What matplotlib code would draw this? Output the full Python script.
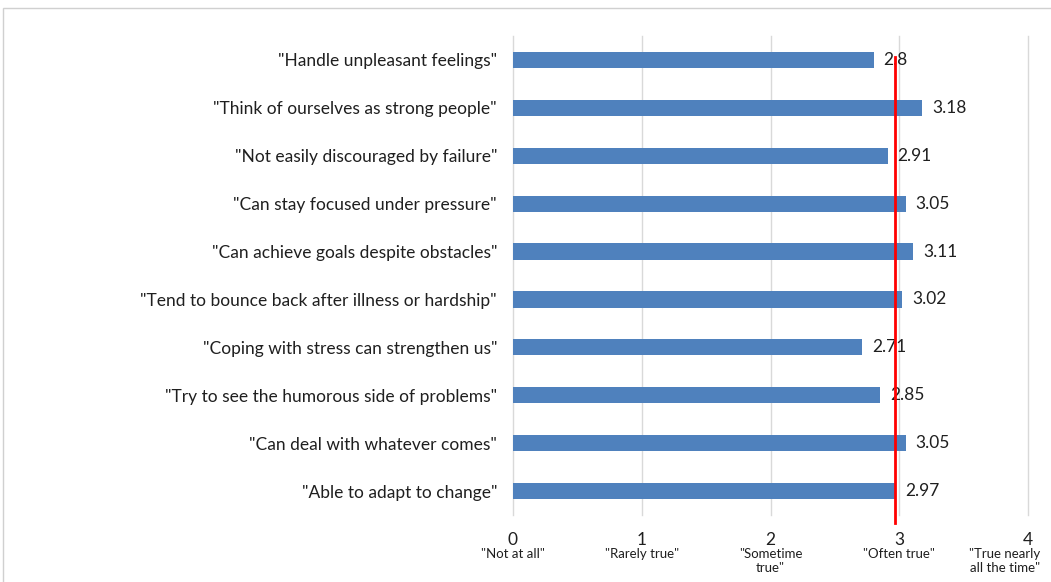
import matplotlib
matplotlib.use("Agg")
import matplotlib.pyplot as plt
import matplotlib.transforms as mtransforms
from matplotlib.patches import Rectangle
import numpy as np

plt.rcParams['font.family'] = ['Lato', 'DejaVu Sans']

items = [
    '"Handle unpleasant feelings"',
    '"Think of ourselves as strong people"',
    '"Not easily discouraged by failure"',
    '"Can stay focused under pressure"',
    '"Can achieve goals despite obstacles"',
    '"Tend to bounce back after illness or hardship"',
    '"Coping with stress can strengthen us"',
    '"Try to see the humorous side of problems"',
    '"Can deal with whatever comes"',
    '"Able to adapt to change"',
]
scores = [2.8, 3.18, 2.91, 3.05, 3.11, 3.02, 2.71, 2.85, 3.05, 2.97]
score_labels = ['2.8', '3.18', '2.91', '3.05', '3.11', '3.02', '2.71', '2.85', '3.05', '2.97']
scale_ticks = [0, 1, 2, 3, 4]
scale_names = ['"Not at all"', '"Rarely true"', '"Sometime\ntrue"', '"Often true"',
               '"True nearly\nall the time"']

overall_mean = float(np.mean(scores))

bar_color = '#4F81BD'
text_color = '#1F1F1F'

fig = plt.figure(figsize=(10.51, 5.82), dpi=100)
ax = fig.add_axes([513 / 1051, 1 - 515 / 582, (1028 - 513) / 1051, (515 - 36) / 582])

y = np.arange(len(items))
ax.barh(y, scores, height=0.34, color=bar_color, zorder=2)
ax.set_ylim(len(items) - 0.5, -0.5)
ax.set_xlim(0, 4)

ax.set_yticks(y)
ax.set_yticklabels(items, fontsize=12.5, color=text_color)
ax.tick_params(axis='y', length=0, pad=11.5)

ax.set_xticks(scale_ticks)
ax.set_xticklabels([str(t) for t in scale_ticks], fontsize=12.5, color=text_color)
ax.tick_params(axis='x', length=0, pad=12)

ax.grid(axis='x', color='#D9D9D9', linewidth=1, zorder=0)
for gl in ax.get_xgridlines():
    gl.set_clip_on(False)
for side in ax.spines.values():
    side.set_visible(False)

# value labels at the bar ends
offset = mtransforms.offset_copy(ax.transData, fig=fig, x=10, y=0, units='dots')
for yi, v, lab in zip(y, scores, score_labels):
    ax.text(v, yi, lab, transform=offset, ha='left', va='center',
            fontsize=12.5, color=text_color, zorder=3)

# descriptive names under the scale numbers (last one kept inside the frame)
name_tf = mtransforms.blended_transform_factory(ax.transData, fig.transFigure)
for i, (t, name) in enumerate(zip(scale_ticks, scale_names)):
    if i == len(scale_ticks) - 1:
        tf = mtransforms.blended_transform_factory(fig.transFigure, fig.transFigure)
        ax.text(1040 / 1051, 1 - 548 / 582, name, transform=tf, ha='right', va='top',
                fontsize=9.5, color=text_color, linespacing=1.2, clip_on=False)
    else:
        ax.text(t, 1 - 548 / 582, name, transform=name_tf, ha='center', va='top',
                fontsize=9.5, color=text_color, linespacing=1.2, clip_on=False)

# overall mean reference line
ax.plot([overall_mean, overall_mean], [-0.06, 9.67], color='#FF0000',
        linewidth=2, zorder=4, clip_on=False)

# chart frame
fig.patches.append(Rectangle((3 / 1051, -0.05), 1.1, 1 - 8 / 582 + 0.05,
                             transform=fig.transFigure, fill=False,
                             edgecolor='#D0D0D0', linewidth=1))

fig.savefig('out.png', dpi=100)
